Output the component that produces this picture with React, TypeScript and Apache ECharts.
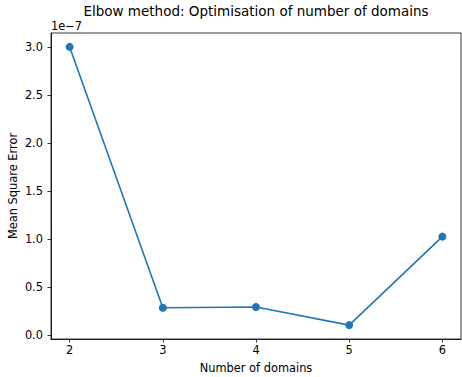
import React, { useEffect, useRef } from "react";
import * as echarts from "echarts";

// Number of domains tried and the resulting mean square error (in units of 1e-7)
const domainCounts = [2, 3, 4, 5, 6];
const mseValues = [3.0, 0.282, 0.289, 0.101, 1.023];
const yTickValues = [0.0, 0.5, 1.0, 1.5, 2.0, 2.5, 3.0];
const xTickValues = [2, 3, 4, 5, 6];

const titleText = "Elbow method: Optimisation of number of domains";
const xName = "Number of domains";
const yName = "Mean Square Error";
const offsetText = "1e\u22127";

const FONT = "DejaVu Sans";
const LABEL_SIZE = 11.4;
const TITLE_SIZE = 13.5;
const W = 462;
const H = 377;
const grid = { left: 51, right: 1, top: 33, bottom: 38 };

// matplotlib-like 5% data margins
function padded(values: number[]) {
  const lo = Math.min(...values);
  const hi = Math.max(...values);
  const pad = (hi - lo) * 0.05;
  return [lo - pad, hi + pad];
}

export default function App() {
  const ref = useRef<HTMLDivElement>(null);

  useEffect(() => {
    if (!ref.current) return;
    const chart = echarts.init(ref.current, undefined, { renderer: "svg" });
    const [xMin, xMax] = padded(domainCounts);
    const [yMin, yMax] = padded(mseValues);
    const plotCx = grid.left + (W - grid.left - grid.right) / 2;
    const plotCy = grid.top + (H - grid.top - grid.bottom) / 2;

    const textStyle = (text: string, size: number, align: string) => ({
      text,
      fontSize: size,
      fontFamily: FONT,
      fill: "#000",
      align,
      verticalAlign: "middle",
    });

    chart.setOption({
      animation: false,
      backgroundColor: "#ffffff",
      grid: {
        ...grid,
        show: true,
        borderColor: "#000",
        borderWidth: 0.8,
        backgroundColor: "transparent",
      },
      xAxis: {
        type: "value",
        min: xMin,
        max: xMax,
        axisLine: { show: true, onZero: false, lineStyle: { color: "#000", width: 0.8 } },
        axisTick: {
          show: true,
          inside: false,
          length: 3.5,
          customValues: xTickValues,
          lineStyle: { color: "#000", width: 0.8 },
        },
        axisLabel: {
          customValues: xTickValues,
          margin: 5,
          color: "#000",
          fontSize: LABEL_SIZE,
          fontFamily: FONT,
          formatter: (v: number) => String(Math.round(v)),
        },
        splitLine: { show: false },
      },
      yAxis: {
        type: "value",
        min: yMin,
        max: yMax,
        axisLine: { show: true, onZero: false, lineStyle: { color: "#000", width: 0.8 } },
        axisTick: {
          show: true,
          inside: false,
          length: 3.5,
          customValues: yTickValues,
          lineStyle: { color: "#000", width: 0.8 },
        },
        axisLabel: {
          customValues: yTickValues,
          margin: 8,
          color: "#000",
          fontSize: LABEL_SIZE,
          fontFamily: FONT,
          formatter: (v: number) => v.toFixed(1),
        },
        splitLine: { show: false },
      },
      series: [
        {
          type: "line",
          data: domainCounts.map((d, i) => [d, mseValues[i]]),
          symbol: "circle",
          symbolSize: 8,
          showAllSymbol: true,
          lineStyle: { color: "#1f77b4", width: 1.6 },
          itemStyle: { color: "#1f77b4" },
          z: 3,
        },
      ],
      graphic: [
        { type: "text", x: plotCx, y: 10.6, style: textStyle(titleText, TITLE_SIZE, "center") },
        { type: "text", x: grid.left, y: 26.1, style: textStyle(offsetText, LABEL_SIZE, "left") },
        { type: "text", x: plotCx, y: 367.8, style: textStyle(xName, LABEL_SIZE, "center") },
        {
          type: "text",
          x: 13.3,
          y: plotCy,
          rotation: Math.PI / 2,
          style: textStyle(yName, LABEL_SIZE, "center"),
        },
      ],
    });

    return () => chart.dispose();
  }, []);

  return (
    <div
      ref={ref}
      style={{ position: "fixed", left: 0, top: 0, width: W, height: H }}
    />
  );
}
